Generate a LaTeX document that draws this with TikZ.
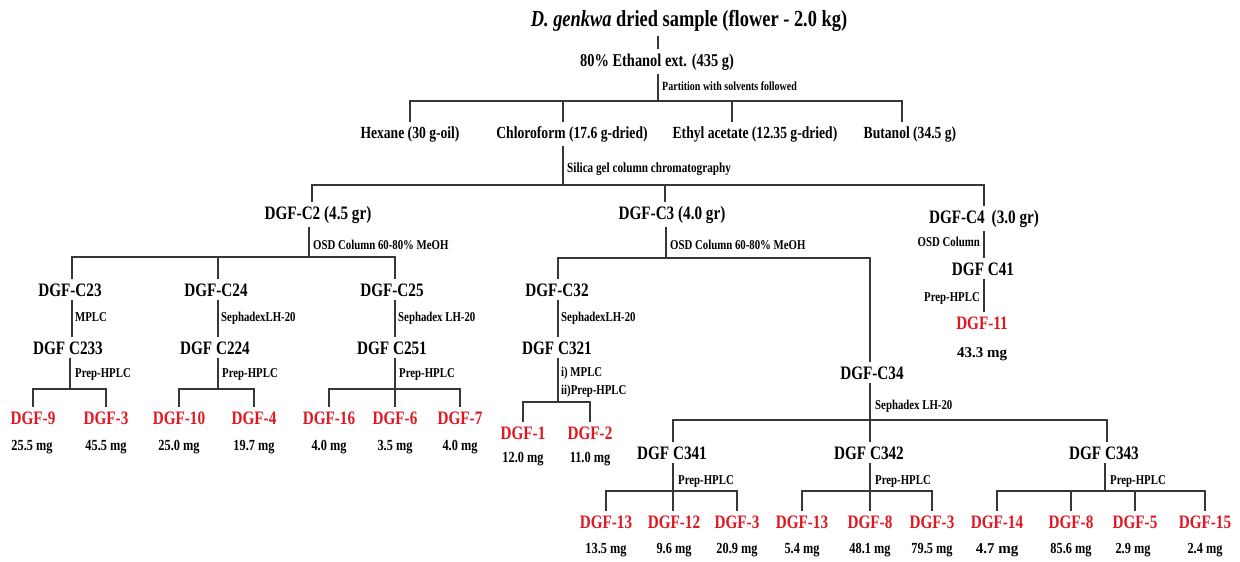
\documentclass[tikz,border=0pt]{standalone}
\usepackage{fontspec}
\newfontfamily\cond[FakeStretch=0.8]{Liberation Serif}
\newfontfamily\wide{Liberation Serif}
\definecolor{dred}{RGB}{225,22,32}
\definecolor{lncol}{RGB}{55,55,55}
\tikzset{
  ln/.style={draw=lncol, line width=1.3pt},
  txt/.style={inner xsep=1pt, inner ysep=4pt, anchor=base},
  ttl/.style={txt, font=\cond\bfseries\fontsize{23}{25}\selectfont},
  bigt/.style={txt, font=\cond\bfseries\fontsize{18}{20}\selectfont},
  solv/.style={txt, font=\cond\bfseries\fontsize{17}{19}\selectfont},
  frac/.style={txt, font=\cond\bfseries\fontsize{19}{21}\selectfont},
  cpd/.style={frac, text=dred},
  mgt/.style={txt, font=\cond\bfseries\fontsize{15.4}{17}\selectfont},
  mgw/.style={txt, font=\wide\bfseries\fontsize{15}{17}\selectfont},
  lbl/.style={inner sep=0pt, anchor=base west, font=\cond\bfseries\fontsize{13.5}{15}\selectfont},
  lble/.style={lbl, anchor=base east},
  smallbl/.style={lbl, font=\cond\bfseries\fontsize{12.5}{14}\selectfont},
  silbl/.style={lbl, font=\cond\bfseries\fontsize{14}{16}\selectfont},
}
\begin{document}
\begin{tikzpicture}[x=1pt,y=-1pt]
\useasboundingbox[fill=white] (0,0) rectangle (1240,562);

% ---------- top ----------
\node[ttl] (title) at (689,27) {{\itshape D. genkwa} dried sample (flower - 2.0 kg)};
\node[bigt] (eth) at (657,66) {80\% Ethanol ext. (435 g)};
\coordinate (j0) at (658,0);
\draw[ln] (j0 |- title.south) -- (j0 |- eth.north);

\node[smallbl] (lpart) at (662,90) {Partition with solvents followed};
\node[solv] (hex) at (410,138) {Hexane (30 g-oil)};
\node[solv] (chl) at (572,138) {Chloroform (17.6 g-dried)};
\node[solv] (eta) at (755,138) {Ethyl acetate (12.35 g-dried)};
\node[solv] (but) at (910,138) {Butanol (34.5 g)};
\coordinate (pm) at (658,101);
\coordinate (p1) at (410,101);
\coordinate (p2) at (563,101);
\coordinate (p3) at (732,101);
\coordinate (p4) at (902,101);
\draw[ln] (pm |- eth.south) -- (pm);
\draw[ln] (p1 |- hex.north) -- (p1) -- (p4) -- (p4 |- but.north);
\draw[ln] (p2) -- (p2 |- chl.north);
\draw[ln] (p3) -- (p3 |- eta.north);

% ---------- silica ----------
\node[silbl] (lsil) at (567,172.5) {Silica gel column chromatography};
\node[frac] (c2) at (318,219) {DGF-C2 (4.5 gr)};
\node[frac] (c3) at (672,219) {DGF-C3 (4.0 gr)};
\node[frac] (c4) at (984,223) {DGF-C4\, (3.0 gr)};
\coordinate (sm) at (563,185);
\coordinate (s1) at (312,185);
\coordinate (s2) at (665,185);
\coordinate (s3) at (984,185);
\draw[ln] (sm |- chl.south) -- (sm);
\draw[ln] (s1 |- c2.north) -- (s1) -- (s3) -- (s3 |- c4.north);
\draw[ln] (s2) -- (s2 |- c3.north);

% ---------- C2 / C3 ----------
\node[lbl] (losd2) at (313,249.5) {OSD Column 60-80\% MeOH};
\node[lbl] (losd3) at (670,249.5) {OSD Column 60-80\% MeOH};
\node[frac] (c23) at (70,296) {DGF-C23};
\node[frac] (c24) at (216,296) {DGF-C24};
\node[frac] (c25) at (392,296) {DGF-C25};
\node[frac] (c32) at (557,296) {DGF-C32};
\node[frac] (c34) at (872,379) {DGF-C34};
\coordinate (qm) at (309,257);
\coordinate (q1) at (72,257);
\coordinate (q2) at (218,257);
\coordinate (q3) at (395,257);
\draw[ln] (qm |- c2.south) -- (qm);
\draw[ln] (q1 |- c23.north) -- (q1) -- (q3) -- (q3 |- c25.north);
\draw[ln] (q2) -- (q2 |- c24.north);
\coordinate (rm) at (666,258);
\coordinate (r1) at (558,258);
\coordinate (r2) at (870,258);
\draw[ln] (rm |- c3.south) -- (rm);
\draw[ln] (r1 |- c32.north) -- (r1) -- (r2) -- (r2 |- c34.north);

% ---------- C4 ----------
\node[frac] (c41) at (983,275) {DGF C41};
\node[cpd] (d11) at (982,329) {DGF-11};
\node[mgw] (m11) at (982,357) {43.3 mg};
\coordinate (u1) at (984,0);
\draw[ln] (u1 |- c4.south) -- (u1 |- c41.north);
\draw[ln] (u1 |- c41.south) -- (u1 |- d11.north);
\node[lble] (losd4) at (980,246.5) {OSD Column};
\node[lble] (lprep4) at (980,301.5) {Prep-HPLC};

% ---------- second level ----------
\node[lbl] (lmplc) at (75,321.5) {MPLC};
\node[lbl] (lsep24) at (221,321.5) {SephadexLH-20};
\node[lbl] (lsep25) at (398,321.5) {Sephadex LH-20};
\node[lbl] (lsep32) at (561,321.5) {SephadexLH-20};
\node[frac] (c233) at (68,354) {DGF C233};
\node[frac] (c224) at (215,354) {DGF C224};
\node[frac] (c251) at (392,354) {DGF C251};
\node[frac] (c321) at (557,354) {DGF C321};
\draw[ln] (q1 |- c23.south) -- (q1 |- c233.north);
\draw[ln] (q2 |- c24.south) -- (q2 |- c224.north);
\draw[ln] (q3 |- c25.south) -- (q3 |- c251.north);
\draw[ln] (r1 |- c32.south) -- (r1 |- c321.north);

\node[lbl] (lp233) at (75,377.5) {Prep-HPLC};
\node[lbl] (lp224) at (222,377.5) {Prep-HPLC};
\node[lbl] (lp251) at (399,377.5) {Prep-HPLC};
\node[lbl] (lp321a) at (561,376.5) {i) MPLC};
\node[lbl] (lp321b) at (561,394.5) {ii)Prep-HPLC};

% leaves row 1
\node[cpd] (d9) at (33,424) {DGF-9};
\node[cpd] (d3a) at (106,424) {DGF-3};
\node[cpd] (d10) at (179,424) {DGF-10};
\node[cpd] (d4) at (254,424) {DGF-4};
\node[cpd] (d16) at (329,424) {DGF-16};
\node[cpd] (d6) at (395,424) {DGF-6};
\node[cpd] (d7) at (460,424) {DGF-7};
\node[cpd] (d1) at (523,439) {DGF-1};
\node[cpd] (d2) at (590,439) {DGF-2};
\node[mgt] (m9) at (32,450) {25.5 mg};
\node[mgt] (m3a) at (106,450) {45.5 mg};
\node[mgt] (m10) at (179,450) {25.0 mg};
\node[mgt] (m4) at (254,450) {19.7 mg};
\node[mgt] (m16) at (329,450) {4.0 mg};
\node[mgt] (m6) at (395,450) {3.5 mg};
\node[mgt] (m7) at (460,450) {4.0 mg};
\node[mgt] (m1) at (523,462) {12.0 mg};
\node[mgt] (m2) at (590,462) {11.0 mg};

\coordinate (g1) at (70,389);
\draw[ln] (g1 |- c233.south) -- (g1);
\draw[ln] (d9.north) -- (d9.north |- g1) -- (d3a.north |- g1) -- (d3a.north);
\coordinate (g2) at (218,389);
\draw[ln] (g2 |- c224.south) -- (g2);
\draw[ln] (d10.north) -- (d10.north |- g2) -- (d4.north |- g2) -- (d4.north);
\coordinate (g3) at (395,389);
\draw[ln] (g3 |- c251.south) -- (g3);
\draw[ln] (d16.north) -- (d16.north |- g3) -- (d7.north |- g3) -- (d7.north);
\draw[ln] (g3) -- (d6.north);
\coordinate (g4) at (558,402);
\draw[ln] (g4 |- c321.south) -- (g4);
\draw[ln] (d1.north) -- (d1.north |- g4) -- (d2.north |- g4) -- (d2.north);

% ---------- C34 ----------
\node[lbl] (lsep34) at (875,409.5) {Sephadex LH-20};
\node[frac] (c341) at (672,459) {DGF C341};
\node[frac] (c342) at (869,459) {DGF C342};
\node[frac] (c343) at (1104,459) {DGF C343};
\coordinate (h0) at (870,420);
\coordinate (h1) at (673,420);
\coordinate (h2) at (1107,420);
\draw[ln] (h0 |- c34.south) -- (h0);
\draw[ln] (h1 |- c341.north) -- (h1) -- (h2) -- (h2 |- c343.north);
\draw[ln] (h0) -- (h0 |- c342.north);

\node[lbl] (lp341) at (678,484.5) {Prep-HPLC};
\node[lbl] (lp342) at (875,484.5) {Prep-HPLC};
\node[lbl] (lp343) at (1110,484.5) {Prep-HPLC};

\node[cpd] (d13a) at (606,528) {DGF-13};
\node[cpd] (d12) at (674,528) {DGF-12};
\node[cpd] (d3b) at (737,528) {DGF-3};
\node[cpd] (d13b) at (802,528) {DGF-13};
\node[cpd] (d8a) at (870,528) {DGF-8};
\node[cpd] (d3c) at (932,528) {DGF-3};
\node[cpd] (d14) at (997,528) {DGF-14};
\node[cpd] (d8b) at (1071,528) {DGF-8};
\node[cpd] (d5) at (1135,528) {DGF-5};
\node[cpd] (d15) at (1205,528) {DGF-15};
\node[mgt] (m13a) at (606,553) {13.5 mg};
\node[mgt] (m12) at (674,553) {9.6 mg};
\node[mgt] (m3b) at (737,553) {20.9 mg};
\node[mgt] (m13b) at (802,553) {5.4 mg};
\node[mgt] (m8a) at (870,553) {48.1 mg};
\node[mgt] (m3c) at (932,553) {79.5 mg};
\node[mgw] (m14) at (997,553) {4.7 mg};
\node[mgt] (m8b) at (1071,553) {85.6 mg};
\node[mgt] (m5) at (1133,553) {2.9 mg};
\node[mgt] (m15) at (1205,553) {2.4 mg};

\coordinate (k1) at (673,491);
\draw[ln] (k1 |- c341.south) -- (k1);
\draw[ln] (d13a.north) -- (d13a.north |- k1) -- (d3b.north |- k1) -- (d3b.north);
\draw[ln] (k1) -- (k1 |- d12.north);
\coordinate (k2) at (870,491);
\draw[ln] (k2 |- c342.south) -- (k2);
\draw[ln] (d13b.north) -- (d13b.north |- k2) -- (d3c.north |- k2) -- (d3c.north);
\draw[ln] (k2) -- (d8a.north);
\coordinate (k3) at (1105,491);
\draw[ln] (k3 |- c343.south) -- (k3);
\draw[ln] (d14.north) -- (d14.north |- k3) -- (d15.north |- k3) -- (d15.north);
\draw[ln] (d8b.north |- k3) -- (d8b.north);
\draw[ln] (d5.north |- k3) -- (d5.north);
\end{tikzpicture}
\end{document}
